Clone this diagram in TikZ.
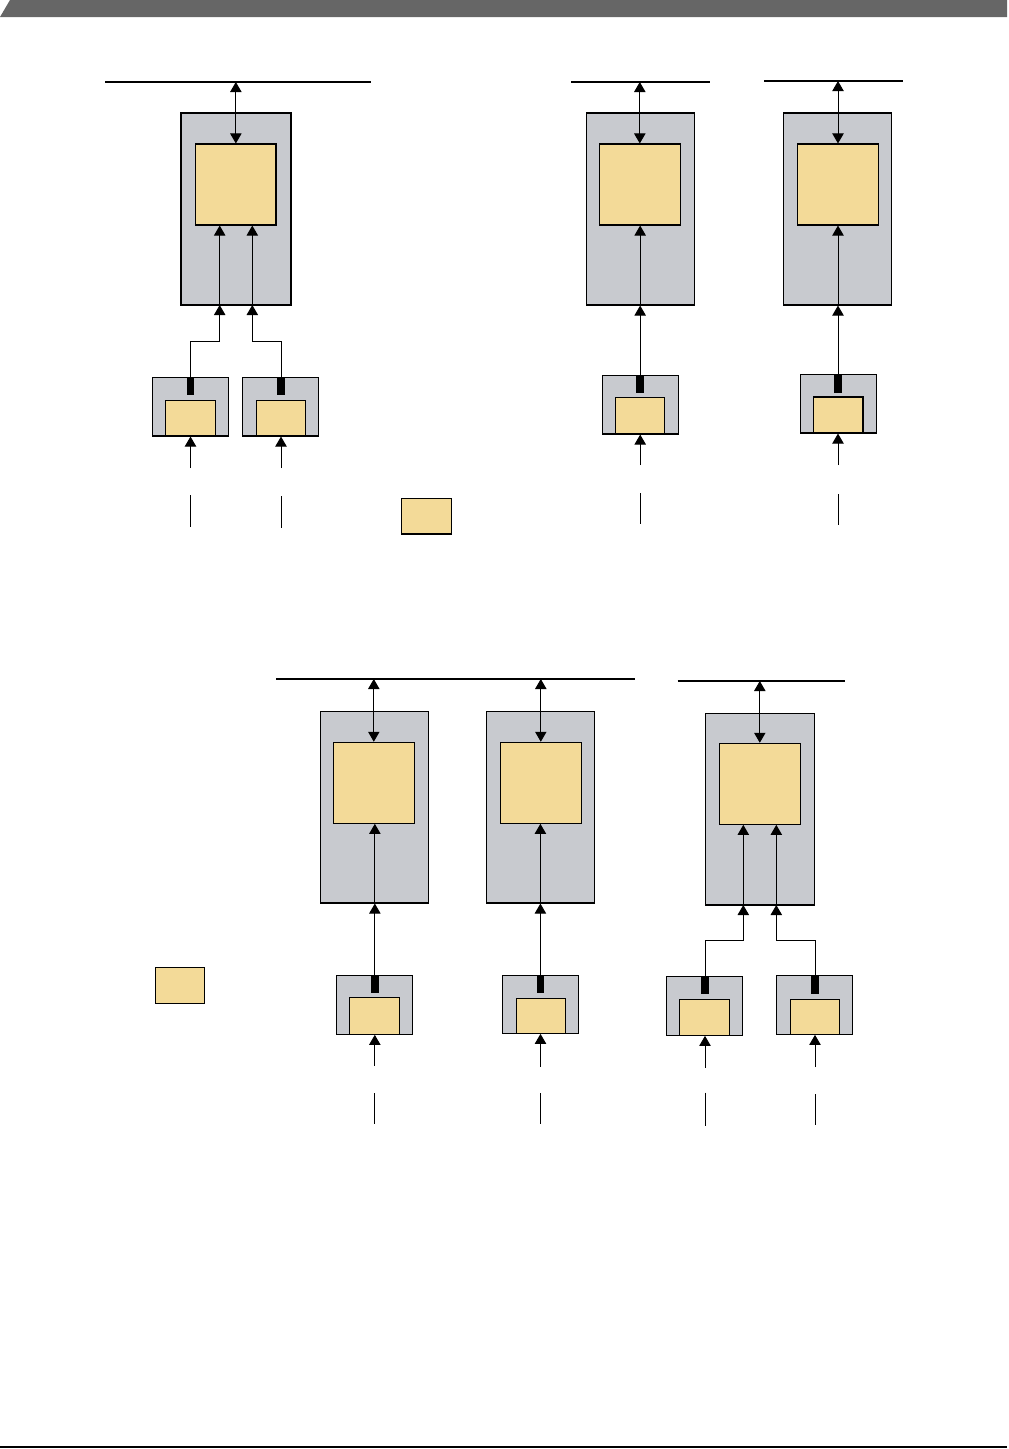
\documentclass[tikz,border=0pt]{standalone}
\usetikzlibrary{arrows.meta,fit,calc}
\definecolor{boxgray}{RGB}{200,202,207}
\definecolor{boxyel}{RGB}{243,218,152}
\definecolor{banner}{RGB}{102,102,102}
\tikzset{
  graybox/.style={draw=black, fill=boxgray, line width=0.8pt, inner sep=0pt},
  yelbox/.style={draw=black, fill=boxyel, line width=0.8pt, inner sep=0pt},
  barbox/.style={fill=black, draw=none, inner sep=0pt},
  arr/.style={-{Triangle[width=8.5pt,length=7.5pt]}, line width=0.75pt},
  biarr/.style={{Triangle[width=8.5pt,length=7.5pt]}-{Triangle[width=8.5pt,length=7.5pt]}, line width=0.75pt},
  plain/.style={line width=0.75pt},
  bus/.style={line width=1.6pt}
}
\newcommand\rbox[6]{\node[#1, fit={(#3,#4) (#5,#6)}] (#2) {};}
\begin{document}
\begin{tikzpicture}[x=0.75pt,y=-0.75pt]
\useasboundingbox (0,0) rectangle (1009,1449);
% banner and bottom rule
\fill[banner] (0,17) -- (10,0) -- (1007,0) -- (1007,17) -- cycle;
\coordinate (footL) at (0,1447);
\coordinate (footR) at (1007,1447);
\draw[line width=1pt] (footL) -- (footR);

% ===== Group A (top left) =====
\coordinate (busAL) at (105,82); \coordinate (busAR) at (371,82);
\draw[bus] (busAL) -- (busAR);
\rbox{graybox}{bigA}{181}{113}{291}{305}
\rbox{yelbox}{yelA}{195.7}{144}{276}{225}
\rbox{graybox}{smA1}{152.3}{377.3}{228.3}{436}
\rbox{yelbox}{syA1}{165.3}{400.3}{215.7}{436}
\rbox{barbox}{barA1}{186.7}{377.3}{194.3}{395}
\rbox{graybox}{smA2}{242.3}{377.3}{318.3}{436}
\rbox{yelbox}{syA2}{256.3}{400.3}{305.7}{436}
\rbox{barbox}{barA2}{277.2}{377.3}{284.8}{395}
\draw[biarr] (yelA.north |- busAL) -- (yelA.north);
\coordinate (inA1) at (219.7,305); \coordinate (inA2) at (252.3,305);
\draw[arr] (inA1) -- (inA1 |- yelA.south);
\draw[arr] (inA2) -- (inA2 |- yelA.south);
\draw[arr] (barA1.north) |- ($(inA1)+(0,36)$) -- (inA1);
\draw[arr] (barA2.north) |- ($(inA2)+(0,36)$) -- (inA2);
\coordinate (srcA1) at (190.5,468); \coordinate (srcA2) at (281,468);
\draw[arr] (srcA1) -- (srcA1 |- smA1.south);
\draw[arr] (srcA2) -- (srcA2 |- smA2.south);
\coordinate (lnA1a) at (190.5,495); \coordinate (lnA1b) at (190.5,527);
\coordinate (lnA2a) at (281,496); \coordinate (lnA2b) at (281,528);
\draw[plain] (lnA1a) -- (lnA1b);
\draw[plain] (lnA2a) -- (lnA2b);

% legend 1
\rbox{yelbox}{legA}{401.3}{498.3}{451.7}{534}

% ===== Group B =====
\coordinate (busBL) at (571,82); \coordinate (busBR) at (710,82);
\draw[bus] (busBL) -- (busBR);
\rbox{graybox}{bigB}{586.3}{113}{694.7}{305}
\rbox{yelbox}{yelB}{599.3}{144}{680.3}{225}
\rbox{graybox}{smB}{602.3}{375.3}{678.7}{434}
\rbox{yelbox}{syB}{615.3}{397.3}{664.7}{434}
\rbox{barbox}{barB}{636}{375.3}{644.3}{393.3}
\draw[biarr] (yelB.north |- busBL) -- (yelB.north);
\draw[arr] (barB.north) -- (barB.north |- bigB.south);
\draw[arr] (barB.north |- bigB.south) -- (barB.north |- yelB.south);
\coordinate (srcB) at (640.2,465);
\draw[arr] (srcB) -- (srcB |- smB.south);
\coordinate (lnBa) at (640.2,493); \coordinate (lnBb) at (640.2,524);
\draw[plain] (lnBa) -- (lnBb);

% ===== Group C =====
\coordinate (busCL) at (764,81); \coordinate (busCR) at (903,81);
\draw[bus] (busCL) -- (busCR);
\rbox{graybox}{bigC}{783.3}{113}{891.7}{305}
\rbox{yelbox}{yelC}{797.3}{144}{878.7}{225}
\rbox{graybox}{smC}{800.5}{374.5}{876.5}{433}
\rbox{yelbox}{syC}{813.5}{397}{863}{433}
\rbox{barbox}{barC}{834}{374.5}{842}{392.5}
\draw[biarr] (yelC.north |- busCL) -- (yelC.north);
\draw[arr] (barC.north) -- (barC.north |- bigC.south);
\draw[arr] (barC.north |- bigC.south) -- (barC.north |- yelC.south);
\coordinate (srcC) at (838,465);
\draw[arr] (srcC) -- (srcC |- smC.south);
\coordinate (lnCa) at (838,494); \coordinate (lnCb) at (838,525);
\draw[plain] (lnCa) -- (lnCb);

% ===== Group D (bottom, two blocks on one bus) =====
\coordinate (busDL) at (276,679); \coordinate (busDR) at (635,679);
\draw[bus] (busDL) -- (busDR);
\rbox{graybox}{bigD1}{320.3}{711.7}{428.3}{903}
\rbox{yelbox}{yelD1}{333.3}{742.3}{414.3}{823.3}
\rbox{graybox}{smD1}{336.7}{975.3}{412.7}{1034.3}
\rbox{yelbox}{syD1}{349.3}{997.3}{399.3}{1034.3}
\rbox{barbox}{barD1}{371}{975.3}{378.7}{992.7}
\draw[biarr] (yelD1.north |- busDL) -- (yelD1.north);
\draw[arr] (barD1.north) -- (barD1.north |- bigD1.south);
\draw[arr] (barD1.north |- bigD1.south) -- (barD1.north |- yelD1.south);
\coordinate (srcD1) at (374.8,1065.7);
\draw[arr] (srcD1) -- (srcD1 |- smD1.south);
\coordinate (lnD1a) at (374.8,1093.3); \coordinate (lnD1b) at (374.8,1124.3);
\draw[plain] (lnD1a) -- (lnD1b);

\rbox{graybox}{bigD2}{486.7}{711.7}{594.3}{903}
\rbox{yelbox}{yelD2}{500.3}{742.3}{581.3}{823.3}
\rbox{graybox}{smD2}{502.3}{975.3}{578.7}{1033.3}
\rbox{yelbox}{syD2}{516.3}{998.3}{565.3}{1033.3}
\rbox{barbox}{barD2}{536.5}{975.3}{544.3}{992.7}
\draw[biarr] (yelD2.north |- busDL) -- (yelD2.north);
\draw[arr] (barD2.north) -- (barD2.north |- bigD2.south);
\draw[arr] (barD2.north |- bigD2.south) -- (barD2.north |- yelD2.south);
\coordinate (srcD2) at (540.5,1066.7);
\draw[arr] (srcD2) -- (srcD2 |- smD2.south);
\coordinate (lnD2a) at (540.5,1093); \coordinate (lnD2b) at (540.5,1124);
\draw[plain] (lnD2a) -- (lnD2b);

% legend 2
\rbox{yelbox}{legB}{155.3}{967.3}{204.3}{1003.3}

% ===== Group E =====
\coordinate (busEL) at (677.7,681); \coordinate (busER) at (845,681);
\draw[bus] (busEL) -- (busER);
\rbox{graybox}{bigE}{705.3}{713.3}{814.3}{905}
\rbox{yelbox}{yelE}{719.3}{743.3}{800.3}{824.3}
\rbox{graybox}{smE1}{666.7}{976.3}{742.3}{1035.3}
\rbox{yelbox}{syE1}{679.3}{999.3}{729.3}{1035.3}
\rbox{barbox}{barE1}{701}{976.3}{709}{994.3}
\rbox{graybox}{smE2}{776.3}{975.3}{852.3}{1034.3}
\rbox{yelbox}{syE2}{790.3}{999.3}{839.3}{1034.3}
\rbox{barbox}{barE2}{811}{975.3}{819}{994.3}
\draw[biarr] (yelE.north |- busEL) -- (yelE.north);
\coordinate (inE1) at (743.3,905); \coordinate (inE2) at (776.3,905);
\draw[arr] (inE1) -- (inE1 |- yelE.south);
\draw[arr] (inE2) -- (inE2 |- yelE.south);
\draw[arr] (barE1.north) |- ($(inE1)+(0,35.3)$) -- (inE1);
\draw[arr] (barE2.north) |- ($(inE2)+(0,35.3)$) -- (inE2);
\coordinate (srcE1) at (705,1067.7); \coordinate (srcE2) at (815,1067);
\draw[arr] (srcE1) -- (srcE1 |- smE1.south);
\draw[arr] (srcE2) -- (srcE2 |- smE2.south);
\coordinate (lnE1a) at (705,1092.7); \coordinate (lnE1b) at (705,1126.3);
\coordinate (lnE2a) at (815,1094); \coordinate (lnE2b) at (815,1125);
\draw[plain] (lnE1a) -- (lnE1b);
\draw[plain] (lnE2a) -- (lnE2b);
\end{tikzpicture}
\end{document}
